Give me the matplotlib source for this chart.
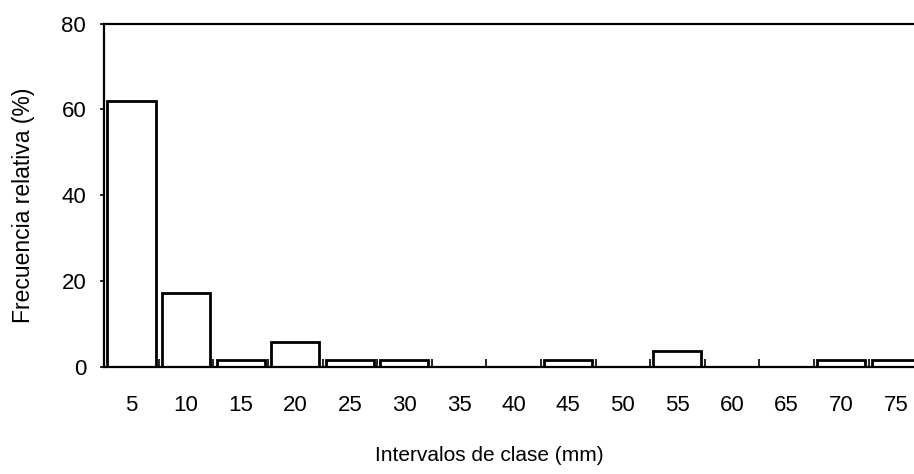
import matplotlib
matplotlib.use("Agg")
import matplotlib.pyplot as plt
import numpy as np

plt.rcParams["font.family"] = ["Liberation Sans", "DejaVu Sans"]

categories = ["5", "10", "15", "20", "25", "30", "35", "40", "45", "50", "55", "60", "65", "70", "75"]
freq = [62.0, 17.2, 1.7, 5.7, 1.7, 1.7, 0.0, 0.0, 1.7, 0.0, 3.8, 0.0, 0.0, 1.7, 1.7]

fig = plt.figure(figsize=(9.14, 4.74), dpi=100)
# the scanned chart runs past the right edge of the picture
ax = fig.add_axes([0.114, 0.226, 0.896, 0.724])

x = np.arange(len(categories))
ax.bar(x, freq, width=0.88, facecolor="white", edgecolor="black", linewidth=2.0)

ax.set_xlim(-0.5, len(categories) - 0.5)
ax.set_ylim(0, 80)
ax.set_yticks([0, 20, 40, 60, 80])
ax.set_xticks(x)
ax.set_xticklabels(categories)
ax.set_xticks(np.arange(-0.5, len(categories)), minor=True)
ax.tick_params(axis="x", which="major", length=0, pad=20, labelsize=16)
ax.tick_params(axis="x", which="minor", direction="in", length=6, width=1.2)
ax.tick_params(axis="y", direction="out", length=3, width=1.2, labelsize=16, pad=10)

ax.spines["right"].set_visible(False)
for sp in ["top", "left", "bottom"]:
    ax.spines[sp].set_linewidth(1.6)

ax.set_xlabel("Intervalos de clase (mm)", fontsize=15)
ax.set_ylabel("Frecuencia relativa (%)", fontsize=16.5)
ax.xaxis.label.set_va("center")
ax.yaxis.label.set_va("center")
ax.xaxis.set_label_coords(0.47, -0.257)
ax.yaxis.set_label_coords(-0.099, 0.47)

fig.savefig("out.png", dpi=100)
